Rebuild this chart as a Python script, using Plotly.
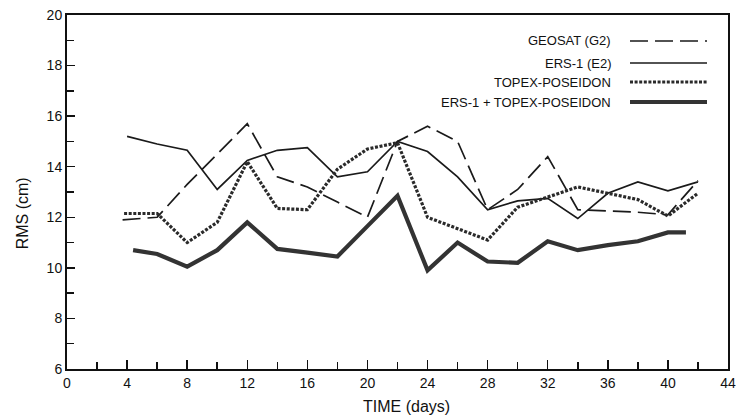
import plotly.graph_objects as go

# ---- data ----
geosat_x = [3.7, 6, 8, 10, 12, 14, 16, 18, 20, 22, 24, 26, 28, 30, 32, 34, 36, 38, 40, 42]
geosat_y = [11.9, 12.0, 13.3, 14.5, 15.7, 13.6, 13.2, 12.6, 12.0, 15.0, 15.6, 15.0, 12.3, 13.1, 14.4, 12.3, 12.25, 12.2, 12.1, 13.45]

ers1_x = [4, 6, 8, 10, 12, 14, 16, 18, 20, 22, 24, 26, 28, 30, 32, 34, 36, 38, 40, 42]
ers1_y = [15.2, 14.9, 14.65, 13.1, 14.25, 14.65, 14.75, 13.6, 13.8, 15.0, 14.6, 13.6, 12.3, 12.65, 12.75, 11.95, 12.95, 13.4, 13.05, 13.4]

topex_x = [3.8, 6, 8, 10, 12, 14, 16, 18, 20, 22, 24, 26, 28, 30, 32, 34, 36, 38, 40, 42]
topex_y = [12.15, 12.15, 11.0, 11.8, 14.2, 12.35, 12.3, 13.9, 14.7, 14.95, 12.0, 11.55, 11.1, 12.4, 12.8, 13.2, 12.95, 12.7, 12.05, 12.95]

combo_x = [4.4, 6, 8, 10, 12, 14, 16, 18, 20, 22, 24, 26, 28, 30, 32, 34, 36, 38, 40, 41.2]
combo_y = [10.7, 10.55, 10.05, 10.7, 11.8, 10.75, 10.6, 10.45, 11.65, 12.85, 9.9, 11.0, 10.25, 10.2, 11.05, 10.7, 10.9, 11.05, 11.4, 11.4]

names = ["GEOSAT (G2)", "ERS-1 (E2)", "TOPEX-POSEIDON", "ERS-1 + TOPEX-POSEIDON"]

x_ticks = list(range(0, 45, 4))
y_ticks = list(range(6, 21, 2))

FONT = "Liberation Sans, Arial, Helvetica, sans-serif"

styles = [
    dict(color="#1a1a1a", width=1.7, dash="18px,7px"),
    dict(color="#1a1a1a", width=1.7, dash="solid"),
    dict(color="#2a2a2a", width=3.2, dash="3px,1.6px"),
    dict(color="#333333", width=4.2, dash="solid"),
]

fig = go.Figure()
series = [(geosat_x, geosat_y), (ers1_x, ers1_y), (topex_x, topex_y), (combo_x, combo_y)]
for (xs, ys), nm, st in zip(series, names, styles):
    fig.add_trace(go.Scatter(x=xs, y=ys, mode="lines", name=nm, line=st,
                             showlegend=False, hoverinfo="skip"))

# custom legend: text right-aligned, line sample to the right
PLOT_W = 736 - 67 - 8
leg_y = [0.9266, 0.8644, 0.8107, 0.7542]
txt_x = (613 - 67) / PLOT_W
ln_x0 = (630 - 67) / PLOT_W
ln_x1 = (707 - 67) / PLOT_W
for nm, st, yy in zip(names, styles, leg_y):
    fig.add_annotation(xref="paper", yref="paper", x=txt_x, y=yy, text=nm,
                       showarrow=False, xanchor="right", yanchor="middle",
                       font=dict(family=FONT, size=13, color="#111"))
    fig.add_shape(type="line", xref="paper", yref="paper",
                  x0=ln_x0, x1=ln_x1, y0=yy, y1=yy, line=st)

# axis titles
fig.add_annotation(xref="paper", yref="paper", x=(406 - 67) / PLOT_W, y=-0.105, text="TIME (days)",
                   showarrow=False, xanchor="center", yanchor="middle",
                   font=dict(family=FONT, size=16, color="#111"))
fig.add_annotation(xref="paper", yref="paper", x=-0.068, y=0.44, text="RMS (cm)",
                   showarrow=False, xanchor="center", yanchor="middle", textangle=-90,
                   font=dict(family=FONT, size=16, color="#111"))

fig.update_xaxes(range=[0, 44], tickvals=x_ticks, ticktext=[str(v) for v in x_ticks],
                 ticks="inside", ticklen=9, tickwidth=1.5, tickcolor="#111",
                 minor=dict(ticks="inside", dtick=2, tick0=0, ticklen=7, tickwidth=1.5, tickcolor="#111"),
                 showline=True, linecolor="#111", linewidth=2, mirror=True,
                 showgrid=False, zeroline=False, automargin=False,
                 ticklabeloverflow="allow",
                 tickfont=dict(family=FONT, size=14, color="#111"))
fig.update_yaxes(range=[6, 20], tickvals=y_ticks, ticktext=[str(v) for v in y_ticks],
                 ticks="inside", ticklen=8, tickwidth=1.5, tickcolor="#111",
                 minor=dict(ticks="inside", dtick=1, tick0=0, ticklen=7, tickwidth=1.5, tickcolor="#111"),
                 showline=True, linecolor="#111", linewidth=2, mirror=True,
                 showgrid=False, zeroline=False, automargin=False,
                 ticklabeloverflow="allow",
                 tickfont=dict(family=FONT, size=14, color="#111"))

fig.update_layout(width=736, height=418, paper_bgcolor="white", plot_bgcolor="white",
                  margin=dict(l=67, r=8, t=15, b=49, autoexpand=False),
                  showlegend=False, hovermode=False)

fig.write_html("out.html", config={"displayModeBar": False, "staticPlot": True},
               post_script="document.body.style.margin='0';document.body.style.padding='0';document.body.style.overflow='hidden';")
